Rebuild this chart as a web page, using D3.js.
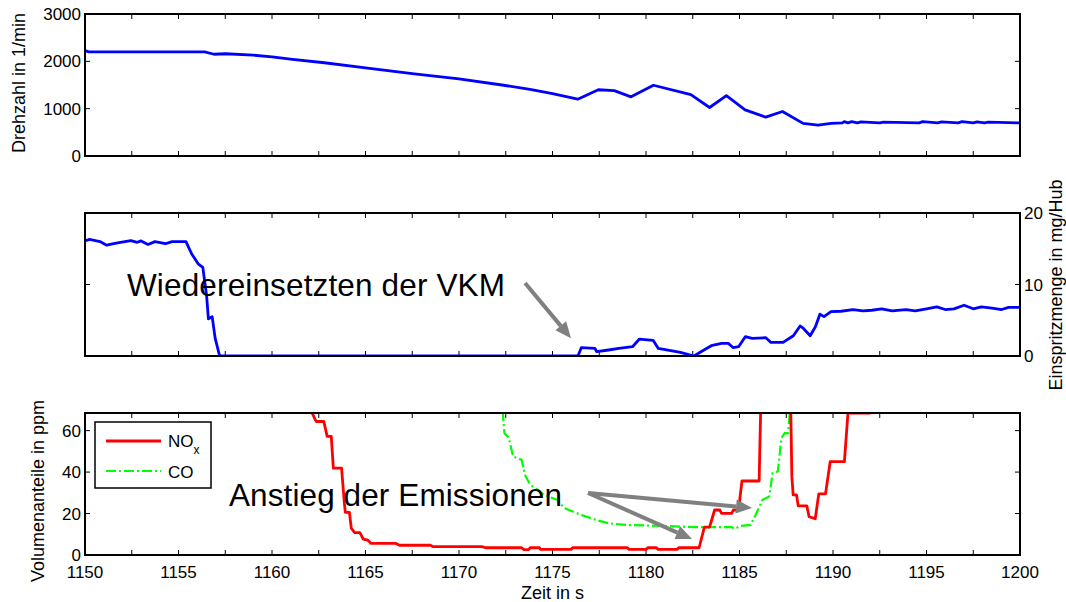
<!DOCTYPE html>
<html>
<head>
<meta charset="utf-8">
<title>Drehzahl, Einspritzmenge, Emissionen</title>
<style>
    body { margin: 0; background: #fff; }
    svg { display: block; font-family: "Liberation Sans", Arial, sans-serif; }
    .frame { fill: none; stroke: #000; stroke-width: 2px; }
    .tick { stroke: #000; stroke-width: 1px; }
    .ticklabel { font-size: 17px; fill: #000; }
    .axlabel { font-size: 18px; fill: #000; }
</style>
</head>
<body>
<script src="https://d3js.org/d3.v7.min.js"></script>
<script>
// Drehzahl (top panel)
var rpmTime  = [1150, 1150.2, 1156.4, 1156.9, 1157.5, 1159, 1160, 1161.1, 1162.8, 1165, 1167.5, 1170, 1172.3, 1173.8, 1175, 1176.35,
                1177.45, 1178.3, 1179.2, 1180.4, 1182.4, 1183.4, 1184.3, 1185.3, 1186.4, 1187.3, 1188.4, 1189.2, 1189.9,
                1190.5, 1190.6, 1190.8, 1191.0, 1191.3, 1191.5, 1192.5, 1192.7, 1194.6, 1194.8, 1195.6, 1195.8, 1196.7, 1196.9,
                1197.5, 1197.7, 1198.1, 1198.3, 1200];
var rpmValue = [2230, 2200, 2200, 2150, 2160, 2130, 2095, 2040, 1970, 1860, 1740, 1630, 1500, 1410, 1320, 1200,
                1400, 1380, 1250, 1495, 1295, 1025, 1275, 975, 820, 940, 690, 650, 690,
                700, 725, 700, 725, 700, 720, 700, 715, 700, 725, 700, 720, 700, 725,
                700, 720, 700, 715, 700];

// Einspritzmenge (middle panel)
var fuelTime  = [1150, 1150.24, 1150.8, 1151.16, 1151.53, 1151.9, 1152.45, 1152.8, 1153.0, 1153.37, 1153.74, 1154.3, 1154.66, 1155.4,
                 1155.7, 1156.05, 1156.3, 1156.5, 1156.6, 1156.8, 1156.96, 1157.2, 1176.36, 1176.54, 1177.27, 1177.36, 1178.0,
                 1178.55, 1179.28, 1179.65, 1180.38, 1180.65, 1181.1, 1181.84, 1182.57, 1182.94, 1183.49, 1184.04, 1184.4, 1184.67,
                 1184.95, 1185.31, 1185.68, 1186.41, 1186.68, 1187.33, 1187.88, 1188.24, 1188.42, 1188.78, 1189.06, 1189.3, 1189.52,
                 1189.89, 1190.43, 1191.07, 1191.6, 1192.08, 1192.6, 1193.17, 1193.9, 1194.4, 1195.0, 1195.55, 1196.0, 1196.47,
                 1197.01, 1197.5, 1197.93, 1198.5, 1199.02, 1199.39, 1200];
var fuelValue = [16.1, 16.3, 16.0, 15.5, 15.7, 15.9, 16.15, 15.9, 16.1, 15.6, 16.0, 15.7, 16.0, 16.0,
                 14.3, 12.9, 12.4, 8.5, 5.2, 5.5, 2.5, 0, 0, 1.16, 1.07, 0.6, 0.84,
                 1.07, 1.3, 2.37, 2.2, 1.07, 0.84, 0.5, 0, 0.6, 1.44, 1.76, 1.76, 1.16,
                 1.3, 2.7, 2.46, 2.55, 1.9, 1.9, 2.83, 4.2, 3.85, 2.83, 4.08, 5.85, 5.5,
                 6.2, 6.26, 6.5, 6.3, 6.4, 6.6, 6.3, 6.5, 6.3, 6.6, 6.87, 6.5, 6.6,
                 7.1, 6.6, 6.87, 6.7, 6.5, 6.8, 6.8];

// NOx (bottom panel, values above the axis range are clipped)
var noxTime  = [1150, 1162.0, 1162.12, 1162.36, 1162.77, 1162.95, 1163.17, 1163.28, 1163.72, 1163.87, 1163.92, 1164.14, 1164.24,
                1164.42, 1164.7, 1164.88, 1165.12, 1165.3, 1166.63, 1166.82, 1168.47, 1168.62, 1171.23, 1171.42, 1173.35, 1173.48,
                1173.72, 1173.81, 1174.3, 1174.35, 1175.99, 1176.08, 1179.0, 1179.1, 1180.0, 1180.1, 1180.56, 1180.65, 1181.66,
                1181.75, 1182.84, 1183.12, 1183.4, 1183.67, 1183.95, 1184.04, 1184.58, 1184.67, 1184.95, 1185.13, 1186.05, 1186.13,
                1186.2, 1187.65, 1187.8, 1187.87, 1188.05, 1188.14, 1188.6, 1188.72, 1189.05, 1189.24, 1189.6, 1189.85, 1190.61,
                1190.8, 1191.99, 1192.05, 1200];
var noxValue = [120, 120, 69, 64.4, 64.4, 57.2, 57.2, 41.9, 41.9, 25, 20.6, 20.6, 12.9,
                10.8, 10.8, 7.7, 7.2, 5.6, 5.6, 4.7, 4.7, 4.0, 4.0, 3.5, 3.5, 2.6,
                2.6, 3.5, 3.5, 2.7, 2.7, 3.5, 3.5, 2.7, 2.7, 3.5, 3.5, 2.7, 2.7,
                3.5, 3.5, 13.4, 13.4, 21.7, 21.7, 20.1, 20.1, 21.7, 21.7, 35.7, 35.7, 69,
                120, 120, 37.8, 29, 29, 23.7, 23.7, 18.5, 17.5, 29.5, 29.5, 45, 45,
                68.5, 68.5, 120, 120];

// CO
var coTime  = [1150, 1172.3, 1172.34, 1172.37, 1172.43, 1172.67, 1172.89, 1173.35, 1173.53, 1173.81, 1174.09, 1174.53, 1175.26,
               1175.63, 1176.54, 1177.45, 1178.0, 1178.91, 1181.11, 1182.57, 1184.58, 1184.76, 1185.04, 1185.59, 1185.86, 1186.23,
               1186.59, 1186.77, 1187.05, 1187.24, 1187.42, 1187.6, 1187.69, 1187.75, 1200];
var coValue = [120, 120, 69, 65.2, 58.8, 56.4, 47.5, 45.9, 38.6, 33.8, 32.2, 29, 26.6,
               22.6, 19.3, 16.6, 15.3, 14.5, 14, 13.4, 13.4, 12.7, 14, 14.5, 19.3, 26.6,
               28.2, 39.5, 40.3, 56.4, 58.8, 58.8, 69, 120, 120];

var xTicks = d3.range(1150, 1200.1, 2.5);
var xLabels = [1150, 1155, 1160, 1165, 1170, 1175, 1180, 1185, 1190, 1195, 1200];
var rpmTicks = [0, 1000, 2000, 3000];
var fuelTicks = [0, 10, 20];
var emTicks = [0, 20, 40, 60];

var w = 1066, h = 602;
var left = 85, right = 1020;
var svg = d3.select('body').append('svg').attr('width', w).attr('height', h);

var x = d3.scaleLinear().domain([1150, 1200]).range([left, right]);
var yRpm = d3.scaleLinear().domain([0, 3000]).range([156, 14]);
var yFuel = d3.scaleLinear().domain([0, 20]).range([356, 213]);
var yEm = d3.scaleLinear().domain([0, 68.5]).range([555, 413]);

function zip(t, v) {
    return t.map(function (d, i) { return [d, v[i]]; });
}

function panel(id, y, yticks, labelSide) {
    var g = svg.append('g');
    var y0 = y.range()[0], y1 = y.range()[1];
    g.append('clipPath').attr('id', 'clip-' + id)
        .append('rect').attr('x', left).attr('y', y1 - 1).attr('width', right - left).attr('height', y0 - y1 + 2);
    // x ticks (inward, top and bottom)
    xTicks.forEach(function (t) {
        g.append('line').attr('class', 'tick').attr('x1', x(t)).attr('x2', x(t)).attr('y1', y0).attr('y2', y0 - 5);
        g.append('line').attr('class', 'tick').attr('x1', x(t)).attr('x2', x(t)).attr('y1', y1).attr('y2', y1 + 5);
    });
    yticks.forEach(function (v) {
        g.append('line').attr('class', 'tick').attr('x1', left).attr('x2', left + 5).attr('y1', y(v)).attr('y2', y(v));
        g.append('line').attr('class', 'tick').attr('x1', right).attr('x2', right - 5).attr('y1', y(v)).attr('y2', y(v));
        if (labelSide === 'left') {
            g.append('text').attr('class', 'ticklabel').attr('x', left - 4).attr('y', y(v)).attr('dy', '0.36em')
                .attr('text-anchor', 'end').text(v);
        } else {
            g.append('text').attr('class', 'ticklabel').attr('x', right + 4).attr('y', y(v)).attr('dy', '0.36em')
                .attr('text-anchor', 'start').text(v);
        }
    });
    var plot = g.append('g').attr('clip-path', 'url(#clip-' + id + ')');
    return { g: g, plot: plot };
}

var p1 = panel('rpm', yRpm, rpmTicks, 'left');
var p2 = panel('fuel', yFuel, fuelTicks, 'right');
var p3 = panel('em', yEm, emTicks, 'left');

function lineFor(y) {
    return d3.line().x(function (d) { return x(d[0]); }).y(function (d) { return y(d[1]); });
}

p1.plot.append('path').attr('d', lineFor(yRpm)(zip(rpmTime, rpmValue)))
    .attr('fill', 'none').attr('stroke', '#0000ff').attr('stroke-width', 2.8).attr('stroke-linejoin', 'round');
p2.plot.append('path').attr('d', lineFor(yFuel)(zip(fuelTime, fuelValue)))
    .attr('fill', 'none').attr('stroke', '#0000ff').attr('stroke-width', 2.8).attr('stroke-linejoin', 'round');
p3.plot.append('path').attr('d', lineFor(yEm)(zip(coTime, coValue)))
    .attr('fill', 'none').attr('stroke', '#00ff00').attr('stroke-width', 2.2).attr('stroke-dasharray', '10,3,2,3');
p3.plot.append('path').attr('d', lineFor(yEm)(zip(noxTime, noxValue)))
    .attr('fill', 'none').attr('stroke', '#ff0000').attr('stroke-width', 2.8).attr('stroke-linejoin', 'round');

// frames on top
[yRpm, yFuel, yEm].forEach(function (y) {
    svg.append('rect').attr('class', 'frame')
        .attr('x', left).attr('y', y.range()[1]).attr('width', right - left).attr('height', y.range()[0] - y.range()[1]);
});

// bottom x labels
xLabels.forEach(function (t) {
    svg.append('text').attr('class', 'ticklabel').attr('x', x(t)).attr('y', 578)
        .attr('text-anchor', 'middle').text(t);
});

// axis titles
svg.append('text').attr('class', 'axlabel').attr('text-anchor', 'middle')
    .attr('transform', 'translate(25,83) rotate(-90)').text('Drehzahl in 1/min');
svg.append('text').attr('class', 'axlabel').attr('text-anchor', 'middle')
    .attr('transform', 'translate(1062,285) rotate(-90)').text('Einspritzmenge in mg/Hub');
svg.append('text').attr('class', 'axlabel').attr('text-anchor', 'middle')
    .attr('transform', 'translate(44,491) rotate(-90)').text('Volumenanteile in ppm');
svg.append('text').attr('class', 'axlabel').attr('text-anchor', 'middle')
    .attr('x', (left + right) / 2).attr('y', 599).text('Zeit in s');

// legend
var lg = svg.append('g');
lg.append('rect').attr('x', 95).attr('y', 422).attr('width', 116).attr('height', 66)
    .attr('fill', '#fff').attr('stroke', '#000').attr('stroke-width', 1.5);
lg.append('line').attr('x1', 106).attr('x2', 161).attr('y1', 441).attr('y2', 441)
    .attr('stroke', '#ff0000').attr('stroke-width', 2.8);
lg.append('line').attr('x1', 106).attr('x2', 161).attr('y1', 471).attr('y2', 471)
    .attr('stroke', '#00ff00').attr('stroke-width', 2.2).attr('stroke-dasharray', '10,3,2,3');
var noxText = lg.append('text').attr('x', 168).attr('y', 447).attr('font-size', 17);
noxText.append('tspan').text('NO');
noxText.append('tspan').attr('font-size', 12).attr('dy', 7).text('x');
lg.append('text').attr('x', 168).attr('y', 478).attr('font-size', 17).text('CO');

// annotations
function arrow(x1, y1, x2, y2) {
    var ang = Math.atan2(y2 - y1, x2 - x1);
    var len = 16, half = 7;
    var bx = x2 - len * Math.cos(ang), by = y2 - len * Math.sin(ang);
    svg.append('line').attr('x1', x1).attr('y1', y1).attr('x2', bx).attr('y2', by)
        .attr('stroke', '#808080').attr('stroke-width', 4);
    svg.append('polygon')
        .attr('points', [[x2, y2],
            [bx + half * Math.sin(ang), by - half * Math.cos(ang)],
            [bx - half * Math.sin(ang), by + half * Math.cos(ang)]].join(' '))
        .attr('fill', '#808080');
}

svg.append('text').attr('x', 127).attr('y', 296).attr('font-size', 31.5)
    .attr('textLength', 378).attr('lengthAdjust', 'spacing').text('Wiedereinsetzten der VKM');
arrow(x(1173.53), yFuel(10.2), x(1175.99), yFuel(2.5));

svg.append('text').attr('x', 229).attr('y', 506).attr('font-size', 31.5)
    .attr('textLength', 333).attr('lengthAdjust', 'spacing').text('Anstieg der Emissionen');
arrow(x(1176.9), yEm(29.9), x(1185.67), yEm(22.7));
arrow(x(1176.9), yEm(29.9), x(1182.46), yEm(7.7));
</script>
</body>
</html>
